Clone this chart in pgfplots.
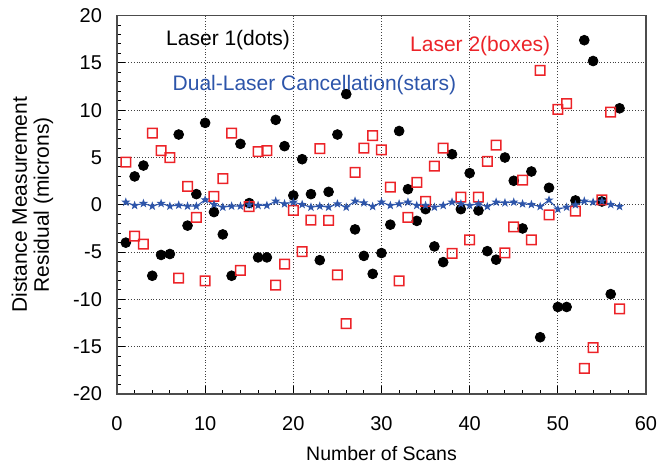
\documentclass[border=0pt]{standalone}
\usepackage{pgfplots}
\pgfplotsset{compat=1.18}
\usepackage{fontspec}
\setmainfont{Liberation Sans}
\definecolor{boxred}{RGB}{236,35,40}
\definecolor{starblue}{RGB}{45,85,170}

% filled five-pointed star
\pgfdeclareplotmark{fstar}{%
  \pgfpathmoveto{\pgfpointpolar{90}{\pgfplotmarksize}}%
  \pgfpathlineto{\pgfpointpolar{126}{0.4\pgfplotmarksize}}%
  \pgfpathlineto{\pgfpointpolar{162}{\pgfplotmarksize}}%
  \pgfpathlineto{\pgfpointpolar{198}{0.4\pgfplotmarksize}}%
  \pgfpathlineto{\pgfpointpolar{234}{\pgfplotmarksize}}%
  \pgfpathlineto{\pgfpointpolar{270}{0.4\pgfplotmarksize}}%
  \pgfpathlineto{\pgfpointpolar{306}{\pgfplotmarksize}}%
  \pgfpathlineto{\pgfpointpolar{342}{0.4\pgfplotmarksize}}%
  \pgfpathlineto{\pgfpointpolar{18}{\pgfplotmarksize}}%
  \pgfpathlineto{\pgfpointpolar{54}{0.4\pgfplotmarksize}}%
  \pgfpathclose
  \pgfusepathqfill
}
% open square drawn as a filled frame
\pgfdeclareplotmark{rbox}{%
  \pgfpathrectanglecorners{\pgfpoint{-\pgfplotmarksize}{-\pgfplotmarksize}}{\pgfpoint{\pgfplotmarksize}{\pgfplotmarksize}}%
  \pgfpathrectanglecorners{\pgfpoint{-\pgfplotmarksize+0.75pt}{-\pgfplotmarksize+0.75pt}}{\pgfpoint{\pgfplotmarksize-0.75pt}{\pgfplotmarksize-0.75pt}}%
  \pgfseteorule
  \pgfusepathqfill
}

\begin{document}
\begin{tikzpicture}
\useasboundingbox (-58.5pt,-34pt) rectangle (270.5pt,197pt);
\begin{axis}[
    at={(0,0)}, anchor=south west,
    scale only axis,
    width=264.5pt, height=189.2pt,
    xmin=0, xmax=60, ymin=-20, ymax=20,
    xtick={0,10,...,60}, ytick={-20,-15,...,20},
    minor x tick num=4, minor y tick num=4,
    tick pos=left, tick align=inside,
    major tick length=4pt, minor tick length=2.2pt,
    grid=major,
    grid style={densely dotted, black!75, line width=0.5pt},
    axis line style={black!70, line width=0.6pt},
    tick style={black, line width=0.5pt},
    xlabel={Number of Scans},
    ylabel={Distance Measurement\\Residual (microns)},
    ylabel style={align=center, font=\fontsize{10.5}{11}\selectfont, yshift=3pt},
    xlabel style={font=\fontsize{9.75}{11}\selectfont, yshift=-1pt},
    tick label style={font=\fontsize{10}{11}\selectfont},
    xticklabel style={yshift=-7.5pt},
    yticklabel style={xshift=-4pt},
    /pgf/number format/assume math mode=true,
    clip=false,
]
% Laser 1 (dots)
\addplot[only marks, mark=*, mark size=2.45pt, black] coordinates {
(1,-4.0)(2,3.0)(3,4.15)(4,-7.5)(5,-5.3)(6,-5.2)(7,7.43)(8,-2.2)(9,1.13)(10,8.66)
(11,-0.77)(12,-3.13)(13,-7.5)(14,6.44)(15,0.18)(16,-5.56)(17,-5.56)(18,8.98)(19,6.2)(20,0.99)
(21,4.82)(22,1.13)(23,-5.85)(24,1.37)(25,7.43)(26,11.7)(27,-2.6)(28,-5.4)(29,-7.3)(30,-5.1)
(31,-2.1)(32,7.8)(33,1.65)(34,-1.7)(35,-0.46)(36,-4.4)(37,-6.06)(38,5.35)(39,-0.46)(40,3.35)
(41,-0.6)(42,-4.9)(43,-5.8)(44,5.0)(45,2.54)(46,-2.5)(47,3.52)(48,-14.0)(49,1.8)(50,-10.8)
(51,-10.8)(52,0.46)(53,17.4)(54,15.2)(55,0.35)(56,-9.44)(57,10.2)
};
% Laser 2 (boxes)
\addplot[only marks, mark=rbox, mark size=2.75pt, boxred,
    mark options={fill=boxred}] coordinates {
(1,4.5)(2,-3.3)(3,-4.15)(4,7.57)(5,5.74)(6,5.0)(7,-7.75)(8,1.94)(9,-1.34)(10,-8.03)
(11,0.88)(12,2.78)(13,7.57)(14,-6.94)(15,-0.18)(16,5.63)(17,5.74)(18,-8.5)(19,-6.27)(20,-0.6)
(21,-4.96)(22,-1.62)(23,5.95)(24,-1.65)(25,-7.4)(26,-12.57)(27,3.42)(28,6.0)(29,7.3)(30,5.8)
(31,1.87)(32,-8.03)(33,-1.34)(34,2.36)(35,0.35)(36,4.1)(37,6.0)(38,-5.14)(39,0.81)(40,-3.7)
(41,0.81)(42,4.58)(43,6.3)(44,-5.07)(45,-2.32)(46,2.6)(47,-3.7)(48,14.2)(49,-1.06)(50,10.1)
(51,10.7)(52,-0.67)(53,-17.3)(54,-15.1)(55,0.53)(56,9.8)(57,-11.0)
};
% Dual-laser cancellation (stars)
\addplot[starblue, line width=0.5pt, mark=fstar, mark size=2.4pt, mark options={fill=starblue}] coordinates {
(1,0.28)(2,-0.07)(3,0.14)(4,-0.14)(5,0.14)(6,-0.14)(7,-0.04)(8,-0.14)(9,-0.14)(10,0.53)
(11,0.03)(12,-0.25)(13,-0.14)(14,-0.14)(15,0.0)(16,-0.07)(17,-0.07)(18,0.39)(19,0.1)(20,0.28)
(21,0.03)(22,-0.25)(23,-0.14)(24,-0.25)(25,0.1)(26,-0.25)(27,0.39)(28,0.21)(29,-0.18)(30,0.28)
(31,-0.07)(32,0.1)(33,0.28)(34,-0.07)(35,-0.07)(36,-0.25)(37,-0.07)(38,0.28)(39,0.1)(40,-0.07)
(41,0.1)(42,-0.18)(43,0.28)(44,0.21)(45,0.28)(46,0.1)(47,0.03)(48,-0.18)(49,0.5)(50,-0.46)
(51,-0.25)(52,0.0)(53,0.39)(54,0.28)(55,0.39)(56,0.03)(57,-0.18)
};
\node[font=\fontsize{10.5}{12}\selectfont, black] at (axis cs:12.6,17.4) {Laser 1(dots)};
\node[font=\fontsize{10.5}{12}\selectfont, boxred] at (axis cs:41.2,16.8) {Laser 2(boxes)};
\node[font=\fontsize{10.5}{12}\selectfont, starblue] at (axis cs:22.4,12.7) {Dual-Laser Cancellation(stars)};
\end{axis}
\end{tikzpicture}
\end{document}
